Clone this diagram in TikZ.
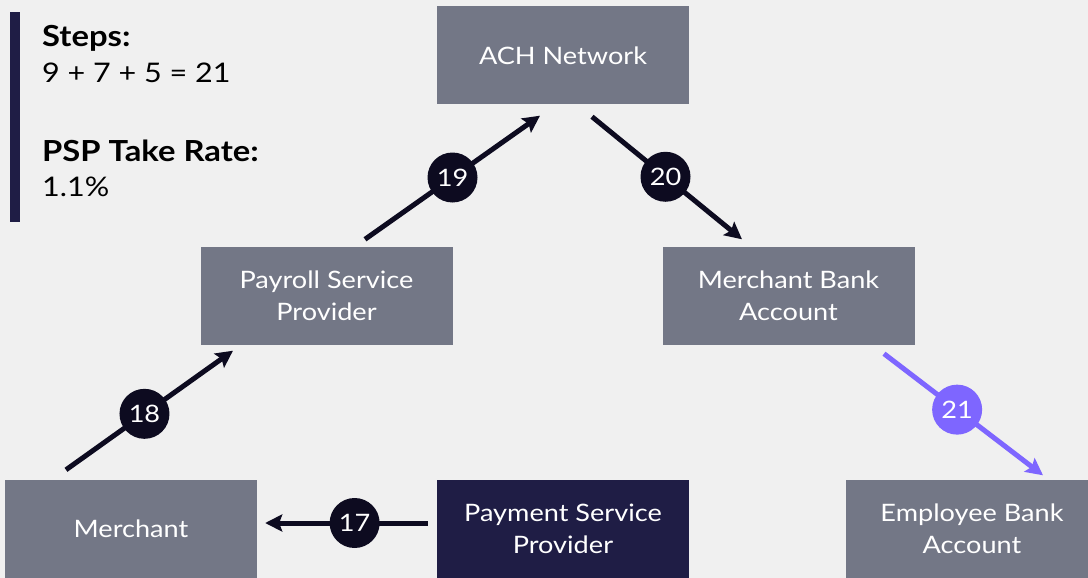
\documentclass[tikz,border=0pt]{standalone}
\usepackage{fontspec}
\setmainfont{Lato}[FakeStretch=1.13]
\usetikzlibrary{arrows.meta}
\usetikzlibrary{positioning}
\definecolor{bgGray}{HTML}{f0f0f0}
\definecolor{boxGray}{HTML}{737786}
\definecolor{darkNavy}{HTML}{1f1d45}
\definecolor{arrowInk}{HTML}{0d0b20}
\definecolor{stepPurple}{HTML}{7e66ff}

\begin{document}
\begin{tikzpicture}[x=1pt, y=-1pt, inner sep=0pt, align=center,
    box/.style={rectangle, fill=boxGray, text=white, minimum width=252pt, minimum height=98pt, font=\fontsize{24}{32}\selectfont},
    flow/.style={draw=arrowInk, line width=5pt, -{Stealth[length=17pt, width=17pt, inset=3pt]}},
    stepnum/.style={circle, fill=arrowInk, text=white, minimum size=50pt, font=\fontsize{24}{24}\selectfont}]

    \fill [bgGray] (0,0) rectangle (1088,578);
    \useasboundingbox (0,0) rectangle (1088,578);

    % left summary
    \node (sideBar) [rectangle, fill=darkNavy, minimum width=10pt, minimum height=210pt] at (15,117) {};
    \node (stepsHead) [anchor=base west, font=\fontsize{29}{34}\selectfont\bfseries] at (42,47) {Steps:};
    \node (stepsVal) [anchor=base west, font=\fontsize{27}{34}\selectfont] at (42,83) {9 + 7 + 5 = 21};
    \node (rateHead) [anchor=base west, font=\fontsize{29}{34}\selectfont\bfseries] at (42,161) {PSP Take Rate:};
    \node (rateVal) [anchor=base west, font=\fontsize{27}{34}\selectfont] at (42,196) {1.1\%};

    % boxes
    \node (ach) [box] at (563,55.5) {ACH Network};
    \node (payroll) [box] at (326.5,295.5) {Payroll Service\\Provider};
    \node (merchbank) [box] at (788.5,295.5) {Merchant Bank\\Account};
    \node (merchant) [box] at (131,529) {Merchant};
    \node (psp) [box, fill=darkNavy] at (563,529) {Payment Service\\Provider};
    \node (empbank) [box] at (972,528.5) {Employee Bank\\Account};

    % flows
    \draw [flow] ([xshift=-9pt, yshift=6pt]psp.west) -- ([xshift=8pt, yshift=6pt]merchant.east)
        node [stepnum, pos=0.45] (s17) {17};
    \draw [flow] ([xshift=-65pt, yshift=10pt]merchant.north) -- ([xshift=-93.5pt, yshift=-6pt]payroll.south)
        node [stepnum, pos=0.47] (s18) {18};
    \draw [flow] ([xshift=38.5pt, yshift=7pt]payroll.north) -- ([xshift=-23pt, yshift=-11pt]ach.south)
        node [stepnum, midway] (s19) {19};
    \draw [flow] ([xshift=29pt, yshift=-12pt]ach.south) -- ([xshift=-46.5pt, yshift=7pt]merchbank.north)
        node [stepnum, pos=0.49] (s20) {20};
    \draw [flow, draw=stepPurple] ([xshift=95.5pt, yshift=-9pt]merchbank.south) -- ([xshift=71pt, yshift=4pt]empbank.north)
        node [stepnum, fill=stepPurple, pos=0.46] (s21) {21};

\end{tikzpicture}
\end{document}
